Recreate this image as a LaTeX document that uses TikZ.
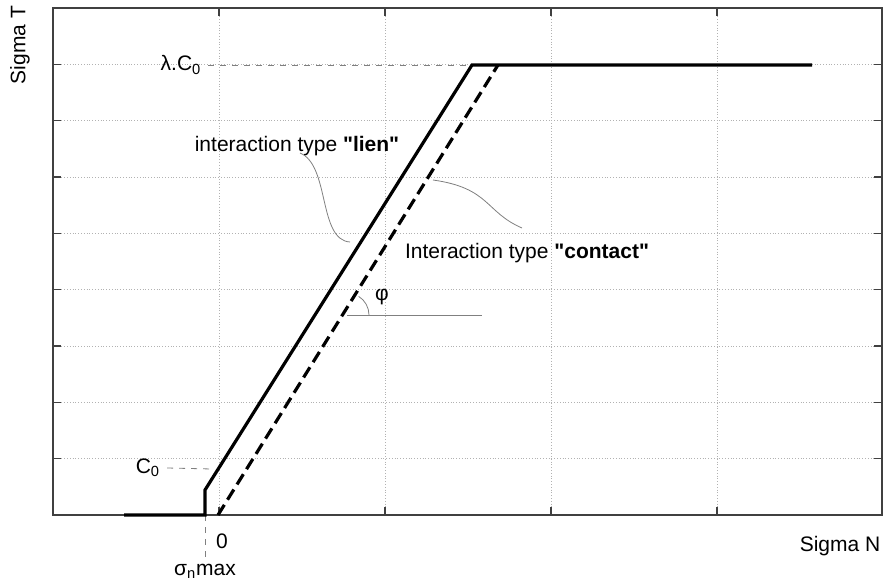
\documentclass[tikz,border=0pt]{standalone}
\usepackage{fontspec}
\setmainfont{Liberation Sans}

\begin{document}
\begin{tikzpicture}[> = latex, x = 0.5pt, y = -0.5pt, font = \fontsize{10.5}{12}\selectfont]

	\useasboundingbox (0, 0) rectangle (888, 583);

	% Grid

	\begin{scope}[gray!60, densely dotted]
		\foreach \n in {1, ..., 8}
			\draw (53, 8 + 56.33 * \n) -- (882, 8 + 56.33 * \n);
		\foreach \n in {1, ..., 4}
			\draw (53 + 166 * \n, 8) -- (53 + 166 * \n, 515);
	\end{scope}

	% Frame and tick marks

	\draw [line width = 1pt, black!75] (53, 8) rectangle (882, 515);

	\begin{scope}[black!75, semithick]
		\foreach \n in {1, ..., 8}
		{
			\draw (53, 8 + 56.33 * \n) -- (61, 8 + 56.33 * \n);
			\draw (874, 8 + 56.33 * \n) -- (882, 8 + 56.33 * \n);
		}
		\foreach \n in {1, ..., 4}
		{
			\draw (53 + 166 * \n, 515) -- (53 + 166 * \n, 507);
			\draw (53 + 166 * \n, 8) -- (53 + 166 * \n, 16);
		}
	\end{scope}

	% Key points

	\coordinate (start) at (124, 515);
	\coordinate (base) at (205, 515);
	\coordinate (knee) at (205, 490);
	\coordinate (top) at (472, 65);
	\coordinate (end) at (812, 65);
	\coordinate (cbase) at (218, 515);
	\coordinate (ctop) at (498, 65);
	\coordinate (phi) at (347, 315);

	% Labels

	\node (lamC) at (181, 65) {λ.C\textsubscript{0}};
	\node (Czero) at (148, 468) {C\textsubscript{0}};
	\node (zero) at (222, 541) {0};
	\node (sigmax) at (205, 571) {σ\textsubscript{n}max};
	\node [rotate = 90] (axT) at (20, 45) {Sigma T};
	\node (axN) at (840, 546) {Sigma N};
	\node (lien) at (297, 146) {interaction type \textbf{\textquotedbl lien\textquotedbl}};
	\node (contact) at (527, 253) {Interaction type \textbf{\textquotedbl contact\textquotedbl}};
	\node (philab) at (382, 297) {φ};

	% Guide lines

	\begin{scope}[thin, gray, dashed]
		\draw (lamC.east) -- (top);
		\draw (Czero.east) -- (212, 469);
		\draw (base) -- (sigmax.north);
	\end{scope}

	% Curves

	\draw [line width = 1.6pt] (start) -- (base) -- (knee) -- (top) -- (end);
	\draw [line width = 1.6pt, dash pattern = on 6pt off 3pt] (cbase) -- (ctop);

	% Leaders

	\begin{scope}[thin, gray]
		\draw (300, 153) .. controls (330, 165) and (318, 240) .. (350, 242);
		\draw (433, 180) .. controls (490, 188) and (485, 212) .. (522, 228);
		\draw (phi) -- (482, 315);
		\draw (phi) ++(11pt, 0) arc [start angle = 0, end angle = 58, radius = 11pt];
	\end{scope}

\end{tikzpicture}
\end{document}
